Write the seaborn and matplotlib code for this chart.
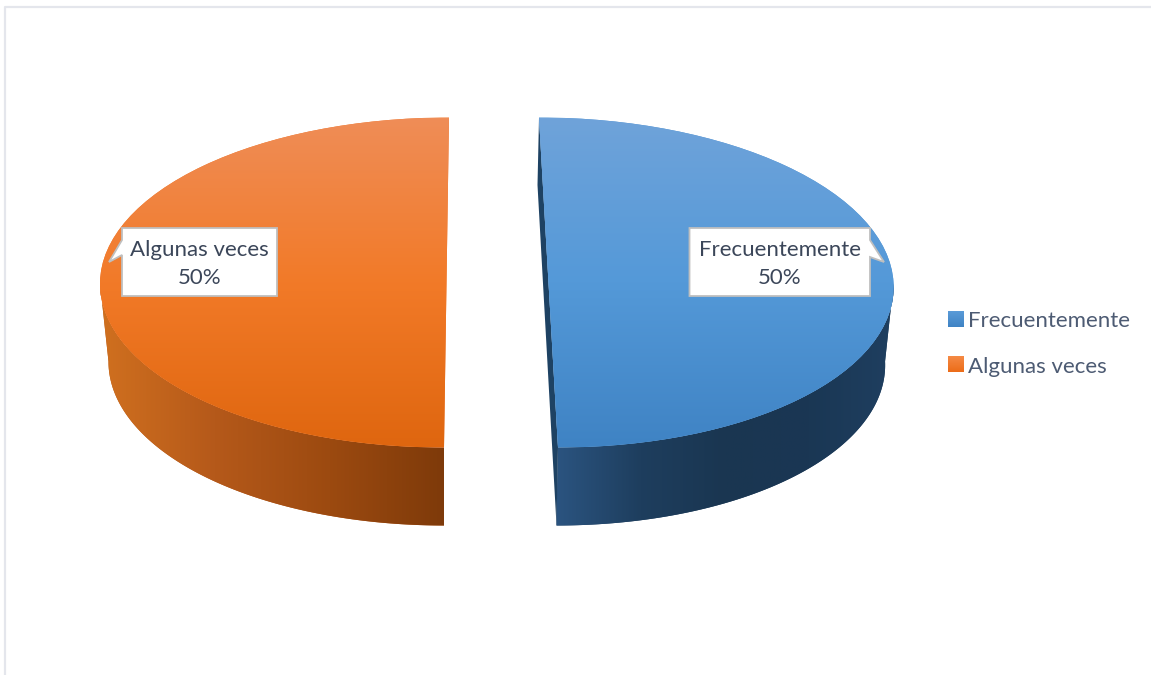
#!/usr/bin/env python3
"""Pseudo 3D pie: Frecuentemente vs Algunas veces."""

import numpy as np
import matplotlib
matplotlib.use("Agg")
import matplotlib.pyplot as plt
from matplotlib.colors import LinearSegmentedColormap
from matplotlib.patches import Polygon
from matplotlib.transforms import Affine2D
import seaborn as sns

categories = ["Frecuentemente", "Algunas veces"]
percentages = [50, 50]

sns.set_theme(style="white")
plt.rcParams["font.family"] = ["Lato", "DejaVu Sans"]

palette = sns.color_palette(["#4f93d3", "#f0762a"])
TOP_STOPS = [["#6fa3da", "#5499d8", "#3f83c4"], ["#ef8d57", "#f27a28", "#df660f"]]
WALL_STOPS = [["#2b5480", "#1e3e5e", "#1a3651", "#1a3754", "#1f3f60"],
              ["#d0701f", "#b5591a", "#9c4a10", "#7e3a0a"]]
SWATCH_STOPS = [["#5a9bd8", "#3f83c4"], ["#f58a45", "#ec6c18"]]
# per slice: centre x, half width, skew of the cut, wall half width, wall x shift
SHAPES = [(548.5, 345, -9.5, 338, -1.5), (446.5, 346.5, 2.5, 338, 0.0)]
CY, B, DEPTH = 282.5, 165, 78


def gradient(ax, stops, clip, horizontal, extent, z):
    """Gradient image cut to the shape of clip."""
    cmap = LinearSegmentedColormap.from_list("g", stops)
    ramp = np.linspace(0, 1, 256).reshape(1, -1) if horizontal else np.linspace(0, 1, 256).reshape(-1, 1)
    im = ax.imshow(ramp, cmap=cmap, extent=extent, aspect="auto", origin="upper", zorder=z)
    if clip is not None:
        im.set_clip_path(clip)


fig = plt.figure(figsize=(11.51, 6.75), dpi=100)
ax = fig.add_axes([0, 0, 1, 1])
wedges, _ = ax.pie(percentages, colors=palette, startangle=90, counterclock=False)
ax.set_aspect("auto")
ax.set_xlim(0, 1151)
ax.set_ylim(675, 0)
ax.axis("off")

for i, w in enumerate(wedges):
    cx, a, k, a2, dx = SHAPES[i]
    w.set_transform(Affine2D.from_values(a, 0, k, -B, cx, CY) + ax.transData)
    w.set_zorder(2)
    w.set_edgecolor("none")
    gradient(ax, TOP_STOPS[i], w, False, (0, 1151, 447, 118), 2.5)

    # side wall: lower part of the rim, pushed down by the depth
    t = np.radians(np.linspace(w.theta1, w.theta2, 300))
    t = t[np.sin(t) <= 0]
    xt = cx + a * np.cos(t) + k * np.sin(t)
    yt = CY - B * np.sin(t)
    xb = cx + dx + a2 * np.cos(t) + k * np.sin(t)
    yb = CY + DEPTH - B * np.sin(t)
    wall = Polygon(np.r_[np.c_[xt, yt], np.c_[xb, yb][::-1]], closed=True,
                   facecolor=WALL_STOPS[i][1], edgecolor="none", zorder=1)
    ax.add_patch(wall)
    gradient(ax, WALL_STOPS[i], wall, True, (min(xb.min(), xt.min()), max(xb.max(), xt.max()), 540, 280), 1.5)

# thin wall along the cut of the right slice
ax.add_patch(Polygon([(539, 118), (537.5, 185), (556.5, 525), (558, 447)], closed=True,
                     facecolor="#1e4263", edgecolor="none", zorder=1.8))

# callouts
boxes = [(689.5, 870, [(870, 240), (884, 262), (870, 257)]),
         (122, 277, [(122, 255), (109, 262), (122, 240)])]
for (x0, x1, tip), name, pct in zip(boxes, categories, percentages):
    if x0 > 400:
        pts = [(x0, 228), (x1, 228)] + tip + [(x1, 296), (x0, 296)]
    else:
        pts = [(x0, 228), (x1, 228), (x1, 296), (x0, 296)] + tip
    ax.add_patch(Polygon(pts, closed=True, facecolor="white", edgecolor="#bfbfbf", lw=1.3, zorder=3))
    ax.text((x0 + x1) / 2, 264, f"{name}\n{pct}%", ha="center", va="center", fontsize=16,
            color="#3b4659", linespacing=1.5, zorder=4)

leg = ax.legend(wedges, categories, loc="upper left", bbox_to_anchor=(948 / 1151, 1 - 311 / 675),
                bbox_transform=fig.transFigure, frameon=False, fontsize=16, labelcolor="#4d5b73",
                handlelength=0.68, handleheight=0.68, handletextpad=0.22, labelspacing=1.15,
                borderpad=0, borderaxespad=0)

# gradient on the legend squares
fig.canvas.draw()
for handle, stops in zip(leg.legend_handles, SWATCH_STOPS):
    (x0, y0), (x1, y1) = ax.transData.inverted().transform(handle.get_window_extent())
    gradient(ax, stops, None, False, (x0, x1, max(y0, y1), min(y0, y1)), 6)

# faint chart frame, top and left only
ax.plot([5, 5, 1151], [675, 7, 7], color="#e4e6ec", lw=1.6, zorder=0)
ax.set_xlim(0, 1151)
ax.set_ylim(675, 0)

fig.savefig("out.png", dpi=100)
